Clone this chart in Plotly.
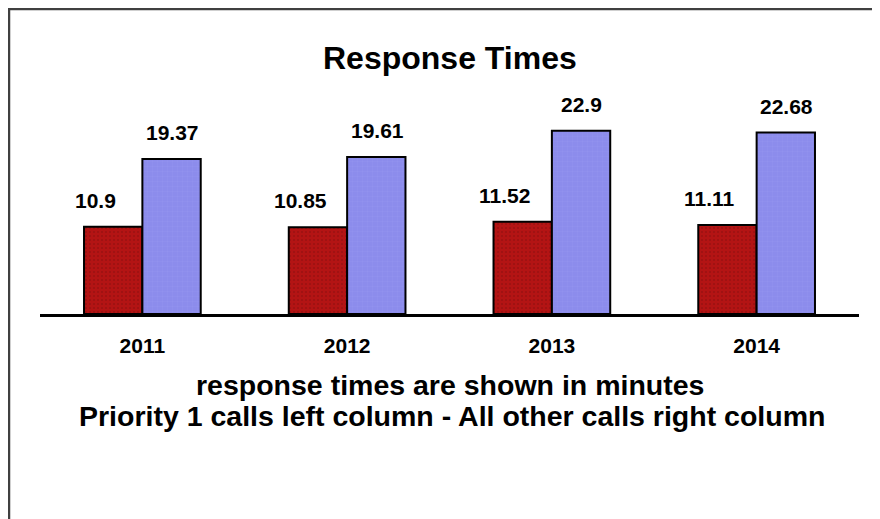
import plotly.graph_objects as go

years = ["2011", "2012", "2013", "2014"]
priority1 = [10.9, 10.85, 11.52, 11.11]
other_calls = [19.37, 19.61, 22.9, 22.68]

FONT = "Liberation Sans, Arial, sans-serif"
LABEL_FONT = dict(family=FONT, size=21, color="black", weight="bold")

fig = go.Figure()
fig.add_trace(go.Bar(
    x=years, y=priority1, name="Priority 1",
    marker=dict(color="#b31414", line=dict(color="black", width=2),
                pattern=dict(shape=".", fgcolor="#7e1010", size=4, solidity=0.2)),
))
fig.add_trace(go.Bar(
    x=years, y=other_calls, name="All other calls",
    marker=dict(color="#8c8cec", line=dict(color="black", width=2),
                pattern=dict(shape="+", fgcolor="#9c9cf0", size=5, solidity=0.15)),
))

# value labels above each bar (category axis -> use index positions)
for i, v in enumerate(priority1):
    fig.add_annotation(x=i, y=v, text=str(v), showarrow=False, xref="x", yref="y",
                       xshift=-47, yshift=13, yanchor="bottom", font=LABEL_FONT)
for i, v in enumerate(other_calls):
    fig.add_annotation(x=i, y=v, text=str(v), showarrow=False, xref="x", yref="y",
                       xshift=30, yshift=13, yanchor="bottom", font=LABEL_FONT)

# page has an 8px body margin, so pixel positions below are shifted by 8
def py(y_px):
    return (306 - (y_px - 8)) / 200

fig.add_annotation(text="Response Times", x=(450 - 8 - 32) / 819, y=py(58),
                   xref="paper", yref="paper", showarrow=False, yanchor="middle",
                   font=dict(family=FONT, size=32, color="black", weight="bold"))
fig.add_annotation(text="response times are shown in minutes", x=(450 - 8 - 32) / 819, y=py(385),
                   xref="paper", yref="paper", showarrow=False, yanchor="middle",
                   font=dict(family=FONT, size=28.5, color="black", weight="bold"))
fig.add_annotation(text="Priority 1 calls left column - All other calls right column",
                   x=(452 - 8 - 32) / 819, y=py(416),
                   xref="paper", yref="paper", showarrow=False, yanchor="middle",
                   font=dict(family=FONT, size=28.5, color="black", weight="bold"))

# outer frame
fig.add_shape(type="rect", xref="paper", yref="paper",
              x0=(1 - 32) / 819, x1=1.2, y0=-1.5, y1=(306 - 1) / 200,
              line=dict(color="#404040", width=2.5))

fig.update_layout(
    width=880, height=519,
    margin=dict(l=32, r=29, t=106, b=213),
    barmode="group", bargap=0.43, bargroupgap=0,
    showlegend=False,
    plot_bgcolor="white", paper_bgcolor="white",
    font=dict(family=FONT, color="black"),
)
fig.update_xaxes(type="category", range=[-0.5, 3.5], showline=True, linecolor="black",
                 linewidth=3, ticks="", automargin=False, ticklabelstandoff=11,
                 tickfont=dict(family=FONT, size=21, weight="bold"), showgrid=False)
fig.update_yaxes(range=[0, 25], visible=False, showgrid=False, automargin=False)

fig.write_html("out.html")
